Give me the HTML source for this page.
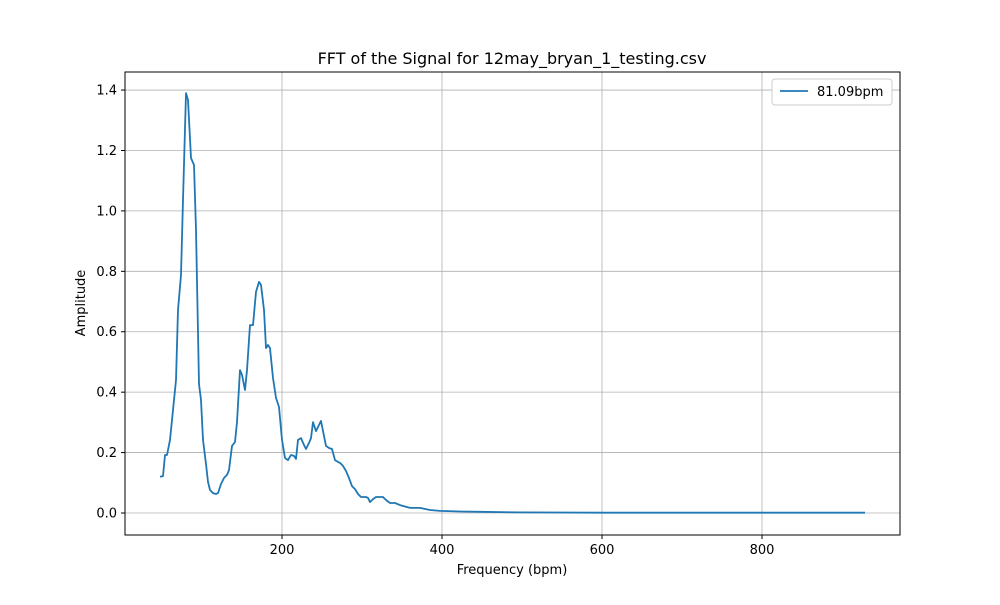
<!DOCTYPE html>
<html><head><meta charset="utf-8"><style>
body{margin:0;background:#fff;font-family:"Liberation Sans","DejaVu Sans",sans-serif}
svg text{font-family:"DejaVu Sans","Liberation Sans",sans-serif}
</style></head><body>
<svg id="chart" width="1000" height="600" xmlns="http://www.w3.org/2000/svg">
<rect width="1000" height="600" fill="#fff"/>
<text x="512" y="64" text-anchor="middle" font-size="16">FFT of the Signal for 12may_bryan_1_testing.csv</text>
<g id="grid"></g>
<path id="line" fill="none" stroke="#1f77b4" stroke-width="1.8" stroke-linejoin="round"/>
<rect x="125" y="72" width="775" height="463" fill="none" stroke="#000" stroke-width="1"/>
<g id="ticks"></g>
<text x="512" y="574" text-anchor="middle" font-size="13">Frequency (bpm)</text>
<text transform="translate(85,303) rotate(-90)" text-anchor="middle" font-size="13">Amplitude</text>
<g>
<rect x="772" y="79" width="120" height="26" rx="3" fill="#fff" stroke="#ccc"/>
<line x1="780" y1="91" x2="808" y2="91" stroke="#1f77b4" stroke-width="1.8"/>
<text x="817" y="96" font-size="13">81.09bpm</text>
</g>
</svg>
<script>
const freqs=[47.5,51.25,53.75,56.25,60,63.75,67.5,70,73.75,76.25,80,82.5,86.25,90,92.5,96.25,98.75,101.25,105,107.5,110,113.75,117.5,120,123.75,127.5,131.25,133.75,137.5,141.25,143.75,147.5,150,153.75,156.25,160,163.75,167.5,171.25,173.75,177.5,180,182.5,185,188.75,192.5,196.25,200,203.75,207.5,211.25,215,217.5,220,223.75,227.5,230,233.75,236.25,238.75,242.5,248.75,255,258.75,262.5,266.25,270,272.5,276.25,280,283.75,287.5,291.25,295,298.75,305,307.5,310,313.75,317.5,326.25,330,335,341.25,347.5,360,372.5,385,397.5,422.5,447.5,497.5,597.5,928.75];
const amps=[0.12,0.122,0.192,0.192,0.242,0.341,0.44,0.672,0.788,1.036,1.39,1.367,1.175,1.152,0.937,0.427,0.374,0.242,0.162,0.103,0.076,0.066,0.063,0.066,0.096,0.116,0.126,0.142,0.222,0.235,0.301,0.473,0.457,0.407,0.473,0.622,0.622,0.732,0.765,0.755,0.672,0.546,0.556,0.546,0.447,0.381,0.351,0.242,0.182,0.175,0.192,0.189,0.179,0.242,0.248,0.225,0.212,0.232,0.248,0.301,0.271,0.305,0.222,0.215,0.212,0.175,0.169,0.166,0.156,0.139,0.116,0.089,0.079,0.063,0.053,0.053,0.05,0.036,0.046,0.053,0.053,0.043,0.033,0.033,0.026,0.017,0.017,0.01,0.007,0.005,0.004,0.002,0.001,0.001];
const xTicks=[200,400,600,800];
const yTicks=[0.0,0.2,0.4,0.6,0.8,1.0,1.2,1.4];
const X=v=>122+0.8*v, Y=v=>513-302.1*v;
const NS="http://www.w3.org/2000/svg";
const grid=document.getElementById('grid'), ticks=document.getElementById('ticks');
function mk(tag,attrs,parent){const e=document.createElementNS(NS,tag);for(const k in attrs)e.setAttribute(k,attrs[k]);parent.appendChild(e);return e;}
xTicks.forEach(t=>{
 const g=mk('line',{x1:X(t),x2:X(t),y1:72,y2:535,stroke:'#b0b0b0','stroke-width':0.8},grid);
 
 
 mk('line',{x1:X(t),x2:X(t),y1:535,y2:539,stroke:'#000'},ticks);
 const tx=mk('text',{x:X(t),y:554,'text-anchor':'middle','font-size':13},ticks);
 tx.textContent=t;
 
 
});
yTicks.forEach(t=>{
 const g=mk('line',{x1:125,x2:900,y1:Y(t),y2:Y(t),stroke:'#b0b0b0','stroke-width':0.8},grid);
 
 
 mk('line',{x1:121,x2:125,y1:Y(t),y2:Y(t),stroke:'#000'},ticks);
 const tx=mk('text',{x:117,y:Y(t)+4.5,'text-anchor':'end','font-size':13},ticks);
 tx.textContent=t.toFixed(1);
 
 
});
document.getElementById('line').setAttribute('d',freqs.map((f,i)=>(i?'L':'M')+X(f).toFixed(1)+','+Y(amps[i]).toFixed(1)).join(''));
</script>
</body></html>
